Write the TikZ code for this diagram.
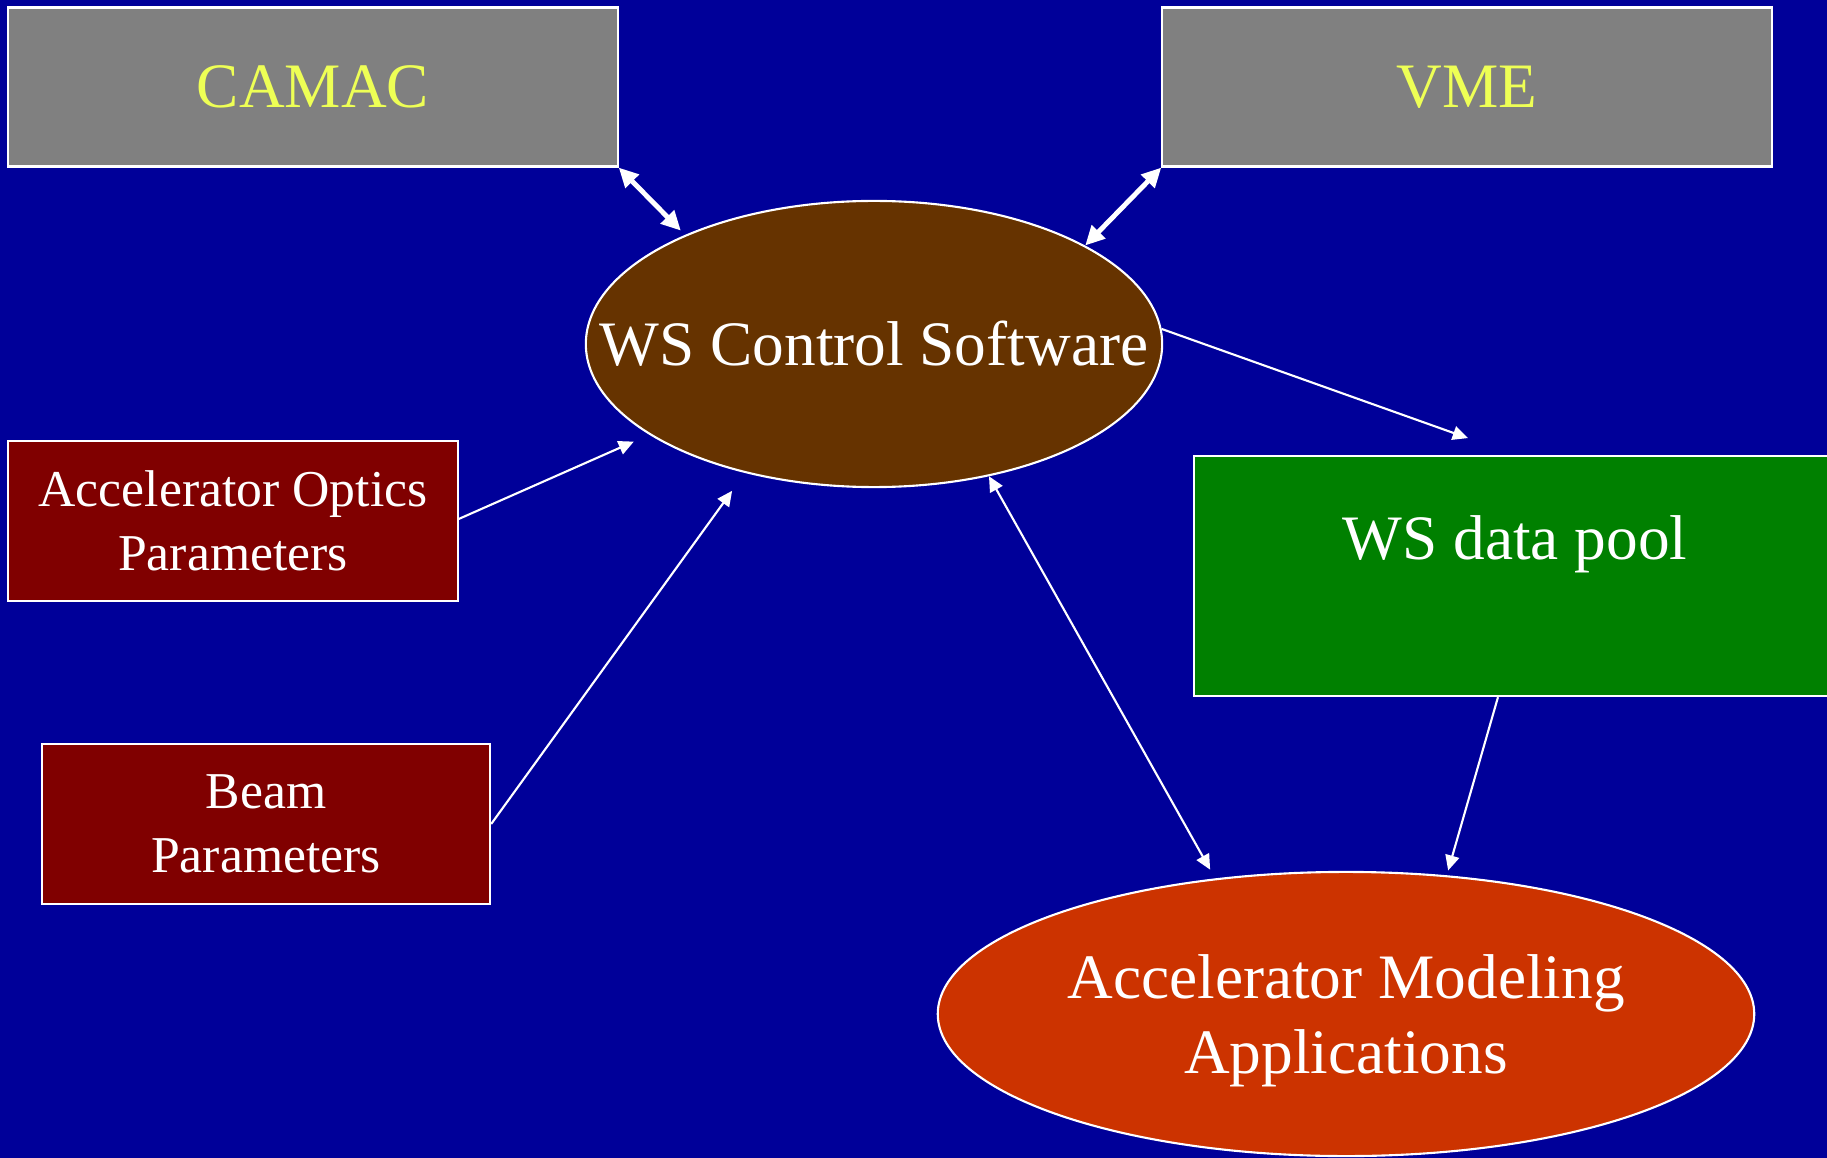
\documentclass[tikz,border=0pt]{standalone}
\usepackage{fontspec}
\setmainfont{Liberation Serif}
\usepackage{xcolor}
\usepackage{tikz}
\usetikzlibrary{shapes, arrows.meta}

\definecolor{bgblue}{RGB}{0,0,153}
\definecolor{hwgray}{RGB}{128,128,128}
\definecolor{hwtext}{RGB}{238,255,85}
\definecolor{ctrlbrown}{RGB}{102,51,0}
\definecolor{parmred}{RGB}{128,0,0}
\definecolor{poolgreen}{RGB}{0,128,0}
\definecolor{modelred}{RGB}{204,51,0}

\begin{document}
\begin{tikzpicture}[x=0.01cm, y=-0.01cm,
    box/.style={rectangle, draw=white, line width=0.6pt, inner sep=0pt, align=center},
    hwbox/.style={box, fill=hwgray, text=hwtext, minimum width=6.09cm, minimum height=1.59cm, font=\fontsize{18}{21.6}\selectfont},
    parmbox/.style={box, fill=parmred, text=white, minimum width=4.48cm, minimum height=1.6cm, font=\fontsize{14.7}{18.2}\selectfont},
    blob/.style={ellipse, draw=white, line width=0.6pt, inner sep=0pt, text=white, align=center, font=\fontsize{18}{21.5}\selectfont},
    link/.style={white, line width=0.6pt, ->, >={Triangle[length=4.3pt, width=4pt]}},
    buslink/.style={white, line width=1.4pt, <->, >={Triangle[length=5.5pt, width=5.2pt]}}]

  \fill[bgblue] (0,0) rectangle (1827,1158);
  \clip (0,0) rectangle (1827,1158);

  % hardware
  \node[hwbox] (camac) at (313,87) {CAMAC};
  \node[hwbox] (vme) at (1467,87) {VME};

  \node[blob, fill=ctrlbrown, inner xsep=-0.72cm, minimum width=5.76cm, minimum height=2.86cm] (wsctrl) at (874,344) {WS Control Software};

  % inputs
  \node[parmbox, minimum width=4.49cm] (optics) at (233,521) {Accelerator Optics\\Parameters};
  \node[parmbox] (beam) at (266,824) {Beam\\Parameters};

  \node[box, fill=poolgreen, minimum width=6.42cm, minimum height=2.4cm,
        label={[white, font=\fontsize{18}{21.6}\selectfont, yshift=0.32cm]center:WS data pool}] (pool) at (1515,576) {};

  \node[blob, fill=modelred, text depth=0pt, minimum width=8.16cm, minimum height=2.84cm] (model) at (1346,1014) {Accelerator Modeling\\Applications};

  \draw[buslink, shorten >=0.06cm] (camac.south east) -- (wsctrl.150);
  \draw[buslink] (vme.south west) -- (wsctrl.25);

  \draw[link, shorten >=0.17cm] (optics.east) ++(0,-2) -- (wsctrl.202);
  \draw[link, shorten >=0.22cm] (beam.east) -- (wsctrl.225);
  \draw[link, shorten >=0.5cm] (wsctrl.3) -- (pool.north);
  \draw[link, <->, shorten >=0.1cm] (wsctrl.311) -- (model.134);
  \draw[link, shorten >=0.05cm] (pool.262) -- (model.54);
\end{tikzpicture}
\end{document}
